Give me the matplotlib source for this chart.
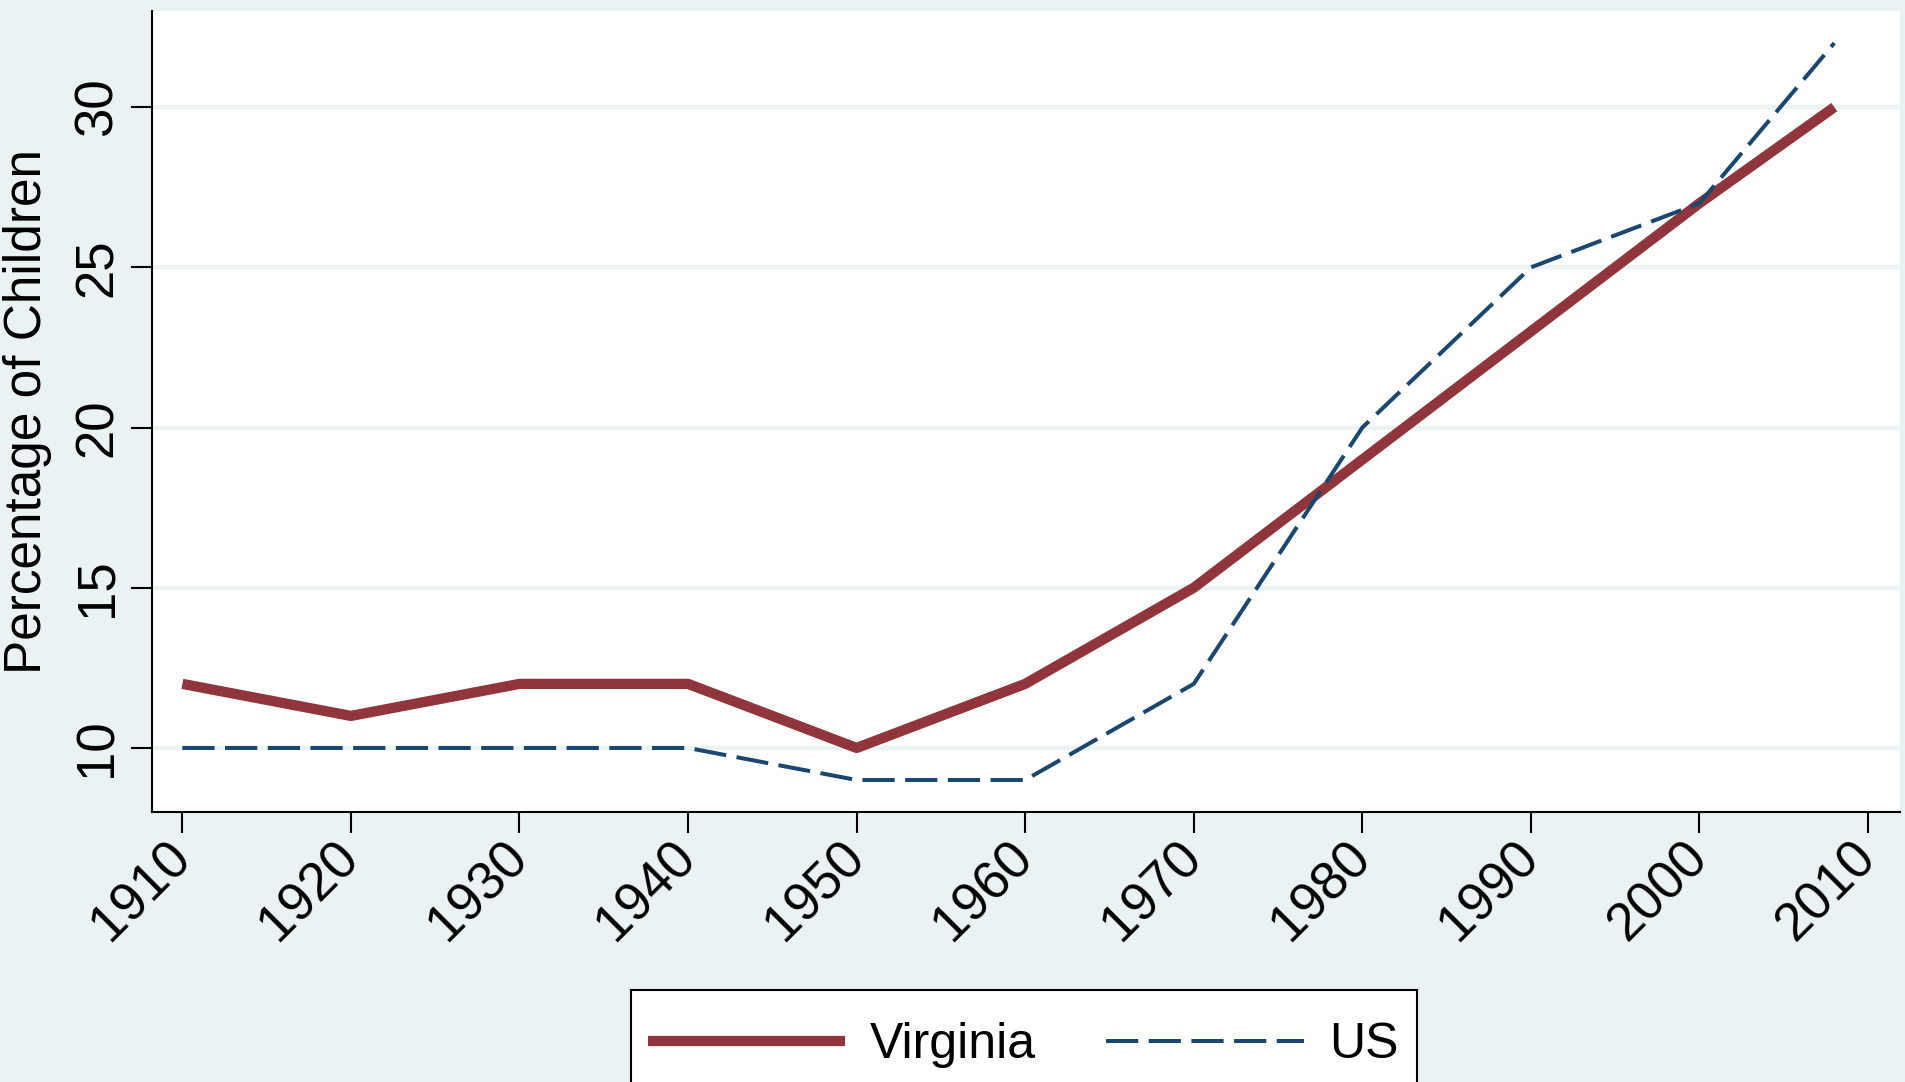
import numpy as np
import matplotlib
matplotlib.use('Agg')
import matplotlib.pyplot as plt
from matplotlib.patches import Rectangle

years = [1910, 1920, 1930, 1940, 1950, 1960, 1970, 1980, 1990, 2000, 2008]
virginia = [12, 11, 12, 12, 10, 12, 15, 19, 23, 27, 30]
us = [10, 10, 10, 10, 9, 9, 12, 20, 25, 27, 32]
xticks = [1910, 1920, 1930, 1940, 1950, 1960, 1970, 1980, 1990, 2000, 2010]
yticks = [10, 15, 20, 25, 30]

bg = '#EAF2F3'
maroon = '#90353B'
navy = '#1A476F'

plt.rcParams['font.family'] = ['Liberation Sans', 'DejaVu Sans']

fig = plt.figure(figsize=(19.05, 10.82), dpi=100, facecolor=bg)
ax = fig.add_axes([0.0798, 0.2495, 0.9176, 0.7403])
ax.set_facecolor('white')

for y in yticks:
    ax.axhline(y, color=bg, lw=3.2, zorder=1)

ax.plot(years, virginia, color=maroon, lw=7.4, solid_capstyle='butt',
        label='Virginia', zorder=3)
ax.plot(years, us, color=navy, lw=2.9, dashes=(8, 2.6),
        label='US', zorder=4)

ax.set_xlim(1908.2, 2011.9)
ax.set_ylim(8, 33)
ax.set_xticks(xticks)
ax.set_xticklabels([str(x) for x in xticks], rotation=45, ha='right',
                   va='center', rotation_mode='anchor', fontsize=38)
ax.set_yticks(yticks)
ax.set_yticklabels([str(y) for y in yticks], rotation=90, va='center',
                   fontsize=38)
ax.tick_params(axis='both', length=15, width=1.5, color='black', direction='out')
ax.tick_params(axis='x', pad=12)
ax.tick_params(axis='y', pad=6)

for s in ['top', 'right']:
    ax.spines[s].set_visible(False)
for s in ['left', 'bottom']:
    ax.spines[s].set_linewidth(1.5)

ax.set_ylabel('Percentage of Children', fontsize=37, labelpad=15)

# legend box runs off the bottom edge, as in the original
box = Rectangle((0.331, -0.05), 0.413, 0.135, transform=fig.transFigure,
                facecolor='white', edgecolor='black', lw=1.5)
fig.patches.append(box)

leg = fig.legend(loc='center', bbox_to_anchor=(0.537, 0.034), ncol=2,
                 fontsize=36, frameon=False, handlelength=3.95,
                 handletextpad=0.5, columnspacing=1.4, borderpad=0,
                 borderaxespad=0)

plt.savefig('out.png', dpi=100, facecolor=bg)
